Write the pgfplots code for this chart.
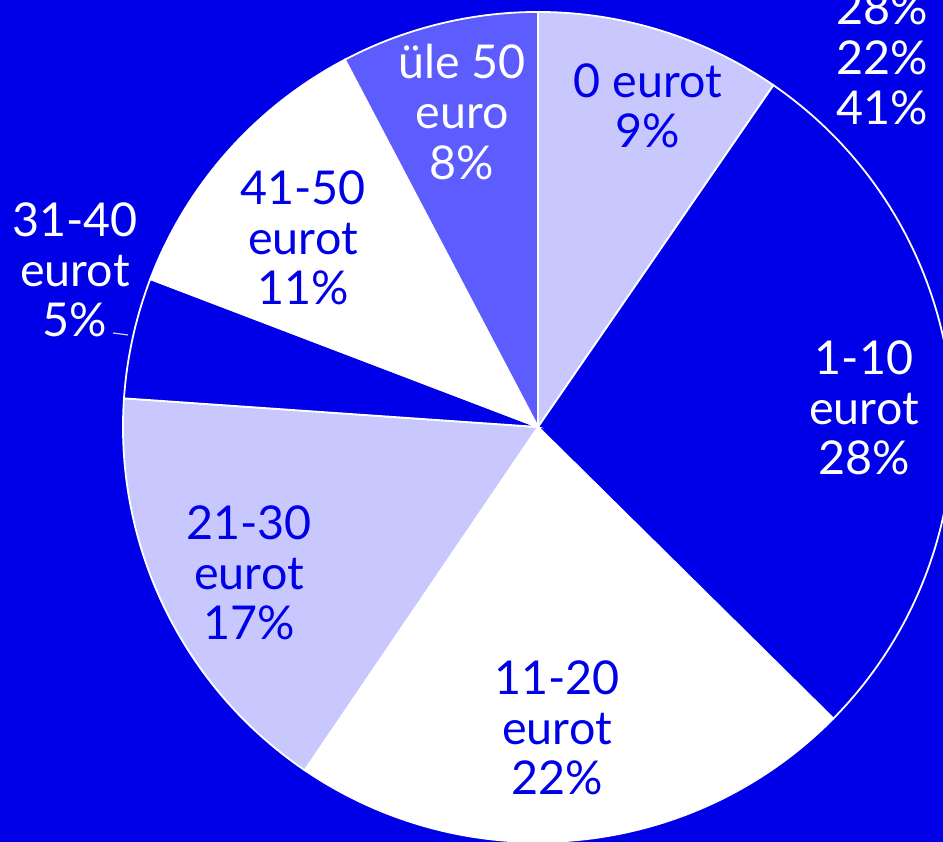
\documentclass[border=0pt]{standalone}
\usepackage{pgfplots}
\usepackage{pgfplotstable}
\pgfplotsset{compat=1.18}
\usepackage{fontspec}
\setmainfont{Lato}
\definecolor{bg}{RGB}{0,0,232}
\definecolor{lav}{RGB}{200,200,255}
\definecolor{mid}{RGB}{92,92,255}
\colorlet{slice0}{lav}
\colorlet{slice1}{bg}
\colorlet{slice2}{white}
\colorlet{slice3}{lav}
\colorlet{slice4}{bg}
\colorlet{slice5}{white}
\colorlet{slice6}{mid}
\tikzset{lbl/.style={font=\fontsize{11.7}{12.6}\selectfont, align=center, inner sep=0pt}}
\pgfplotstableread{
idx value
0 9.6
1 27.8
2 22.1
3 16.6
4 4.7
5 11.5
6 7.7
}\piedata
\begin{document}
\begin{tikzpicture}
\def\cum{90}
\pgfplotsforeachungrouped \i in {0,...,6}{%
  \pgfplotstablegetelem{\i}{value}\of\piedata
  \pgfmathsetmacro\e{\cum-3.6*\pgfplotsretval}%
  \expandafter\xdef\csname sA\i\endcsname{\cum}%
  \expandafter\xdef\csname sB\i\endcsname{\e}%
  \xdef\cum{\e}%
}
\begin{axis}[x=0.25bp, y=0.25bp, xmin=0, xmax=943, ymin=0, ymax=842,
  hide axis, clip=true]
\fill[bg] (axis cs:0,0) rectangle (axis cs:943,842);
\coordinate (ll) at (axis cs:0,0);
\coordinate (ur) at (axis cs:943,842);
\pgfplotsinvokeforeach{0,...,6}{
  \fill[slice#1, draw=white, line width=0.45bp] (axis cs:538,415) -- ++(\csname sA#1\endcsname:103.75bp)
     arc[start angle=\csname sA#1\endcsname, end angle=\csname sB#1\endcsname, radius=103.75bp] -- cycle;
}
\draw[lav!80!white, line width=0.3bp] (axis cs:113,509) -- (axis cs:128,507);
\node[lbl, text=white] at (axis cs:462,730) {üle 50\\euro\\8\%};
\node[lbl, text=bg] at (axis cs:648,736) {0 eurot\\9\%};
\node[lbl, text=white] at (axis cs:864,434) {1-10\\eurot\\28\%};
\node[lbl, text=bg] at (axis cs:557,114) {11-20\\eurot\\22\%};
\node[lbl, text=bg] at (axis cs:249,269) {21-30\\eurot\\17\%};
\node[lbl, text=white] at (axis cs:75,572) {31-40\\eurot\\5\%};
\node[lbl, text=bg] at (axis cs:303,604) {41-50\\eurot\\11\%};
\node[lbl, text=white, anchor=west] at (axis cs:836,834) {28\%};
\node[lbl, text=white, anchor=west] at (axis cs:836,784) {22\%};
\node[lbl, text=white, anchor=west] at (axis cs:836,734) {41\% u};
\end{axis}
\pgfresetboundingbox
\path[use as bounding box] (ll) rectangle (ur);
\end{tikzpicture}
\end{document}
